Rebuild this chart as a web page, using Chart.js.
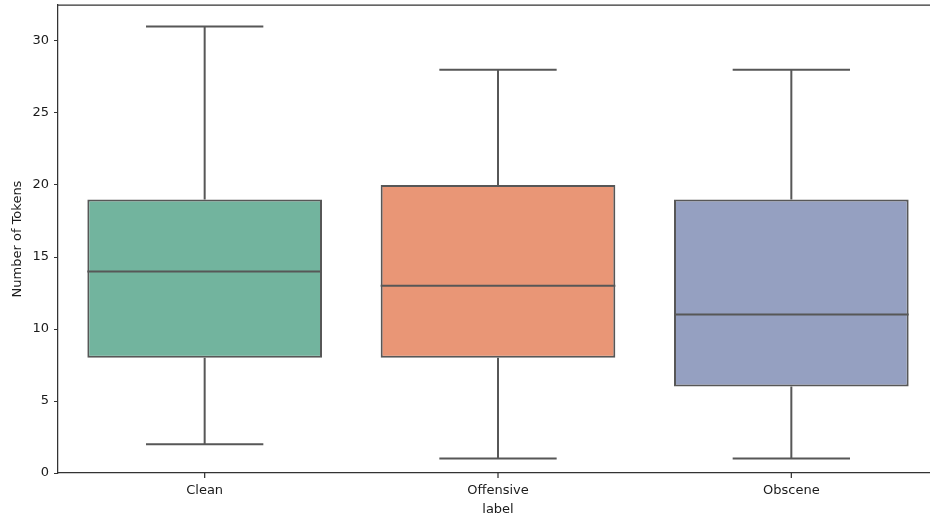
<!DOCTYPE html>
<html>
<head>
<meta charset="utf-8">
<script src="https://cdn.jsdelivr.net/npm/chart.js@4"></script>
<style>
  html, body { margin: 0; padding: 0; background: #fff; overflow: hidden; }
  #wrap { width: 942px; height: 518px; }
</style>
</head>
<body>
<div id="wrap"><canvas id="boxChart"></canvas></div>
<script>
// box plot stats per label
const categories = ['Clean', 'Offensive', 'Obscene'];
const whiskerLow = [2, 1, 1];
const q1 = [8, 8, 6];
const median = [14, 13, 11];
const q3 = [19, 20, 19];
const whiskerHigh = [31, 28, 28];
const yTicks = [0, 5, 10, 15, 20, 25, 30];
const boxColors = ['#72b49e', '#e99676', '#95a0c1'];

const lineColor = '#575757';
const textColor = '#1a1a1a';
const font = { family: 'DejaVu Sans', size: 13 };

// whiskers + caps go behind the box, median on top
const boxplotParts = {
  id: 'boxplotParts',
  beforeDatasetsDraw(chart) {
    const { ctx, scales: { y } } = chart;
    const bars = chart.getDatasetMeta(0).data;
    ctx.save();
    ctx.strokeStyle = lineColor;
    ctx.lineWidth = 2;
    bars.forEach((bar, i) => {
      const half = bar.width / 4;
      const lo = y.getPixelForValue(whiskerLow[i]);
      const hi = y.getPixelForValue(whiskerHigh[i]);
      ctx.beginPath();
      ctx.moveTo(bar.x, lo); ctx.lineTo(bar.x, y.getPixelForValue(q1[i]));
      ctx.moveTo(bar.x, hi); ctx.lineTo(bar.x, y.getPixelForValue(q3[i]));
      ctx.moveTo(bar.x - half, lo); ctx.lineTo(bar.x + half, lo);
      ctx.moveTo(bar.x - half, hi); ctx.lineTo(bar.x + half, hi);
      ctx.stroke();
    });
    ctx.restore();
  },
  afterDatasetsDraw(chart) {
    const { ctx, scales: { x, y }, chartArea } = chart;
    const bars = chart.getDatasetMeta(0).data;
    ctx.save();
    ctx.strokeStyle = lineColor;
    ctx.lineWidth = 2;
    bars.forEach((bar, i) => {
      const m = y.getPixelForValue(median[i]);
      ctx.beginPath();
      ctx.moveTo(bar.x - bar.width / 2, m);
      ctx.lineTo(bar.x + bar.width / 2, m);
      ctx.stroke();
    });
    ctx.strokeStyle = '#333';
    ctx.lineWidth = 1.25;
    ctx.beginPath();
    // top spine (right one falls outside the picture)
    ctx.moveTo(chartArea.left, chartArea.top);
    ctx.lineTo(chartArea.right + 10, chartArea.top);
    // category tick marks under the x axis
    categories.forEach((c, i) => {
      const px = x.getPixelForValue(i);
      ctx.moveTo(px, chartArea.bottom);
      ctx.lineTo(px, chartArea.bottom + 5);
    });
    ctx.stroke();
    ctx.restore();
  }
};

new Chart(document.getElementById('boxChart'), {
  type: 'bar',
  data: {
    labels: categories,
    datasets: [{
      data: categories.map((c, i) => [q1[i], q3[i]]),
      backgroundColor: boxColors,
      borderColor: lineColor,
      borderWidth: 2,
      borderSkipped: false,
      barPercentage: 0.8,
      categoryPercentage: 1
    }]
  },
  options: {
    responsive: true,
    maintainAspectRatio: false,
    animation: false,
    layout: { padding: { top: 5, right: 4, left: 0, bottom: 0 } },
    plugins: { legend: { display: false }, tooltip: { enabled: false } },
    scales: {
      x: {
        grid: { display: false },
        border: { display: true, color: '#333', width: 1.25 },
        ticks: { color: textColor, font: font, padding: 2 },
        title: { display: true, text: 'label', color: textColor, font: font, padding: { top: 0, bottom: 1 } },
        afterFit(scale) { scale.height = 45; scale.paddingLeft = 0; scale.paddingRight = 0; }
      },
      y: {
        min: 0,
        max: 32.5,
        grid: { drawOnChartArea: false, drawTicks: true, tickLength: 4, color: '#333' },
        border: { display: true, color: '#333', width: 1.25 },
        ticks: { color: textColor, font: font, padding: 5 },
        afterBuildTicks(scale) { scale.ticks = yTicks.map(v => ({ value: v })); },
        title: { display: true, text: 'Number of Tokens', color: textColor, font: font, padding: { top: 10, bottom: 10 } },
        afterFit(scale) { scale.width = 58; scale.paddingTop = 0; scale.paddingBottom = 0; }
      }
    }
  },
  plugins: [boxplotParts]
});
</script>
</body>
</html>
